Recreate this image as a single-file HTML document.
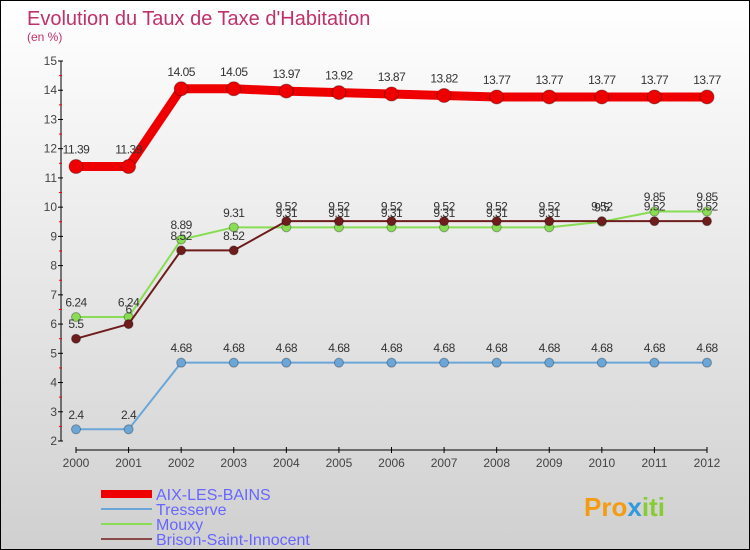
<!DOCTYPE html>
<html><head><meta charset="utf-8"><style>
body{margin:0}
#c{width:748px;height:548px;border:1px solid #000;background:linear-gradient(#fff,#d0d0d0);position:relative;font-family:"Liberation Sans",sans-serif;overflow:hidden}
svg text{font-family:"Liberation Sans",sans-serif}
</style></head><body>
<div id="c">
<svg id="s" width="748" height="548">
<text x="26" y="24" font-size="20" fill="#c0306a">Evolution du Taux de Taxe d'Habitation</text>
<text x="26" y="40" font-size="12" fill="#c0306a">(en %)</text>
<g id="axes"></g><g id="series"></g>
<g>
<rect x="100" y="489" width="51" height="8" fill="#e00"/>
<text x="155" y="499" font-size="16" fill="#6666ff">AIX-LES-BAINS</text>
<rect x="100" y="507" width="51" height="2" fill="#6aa6d8"/>
<text x="155" y="514" font-size="16" fill="#6666ff">Tresserve</text>
<rect x="100" y="522" width="51" height="2" fill="#88dd55"/>
<text x="155" y="529" font-size="16" fill="#6666ff">Mouxy</text>
<rect x="100" y="537" width="51" height="2" fill="#8b4a4a"/>
<text x="155" y="544" font-size="16" fill="#6666ff">Brison-Saint-Innocent</text>
</g>
<text x="583" y="515" font-size="26" font-weight="bold" fill="#f39c12">Pro<tspan fill="#3399dd">x</tspan><tspan fill="#88cc33">iti</tspan></text>
</svg></div>
<script>
const years=[2000,2001,2002,2003,2004,2005,2006,2007,2008,2009,2010,2011,2012];
const yTicks=[2,3,4,5,6,7,8,9,10,11,12,13,14,15];
const aix=[11.39,11.39,14.05,14.05,13.97,13.92,13.87,13.82,13.77,13.77,13.77,13.77,13.77];
const tresserve=[2.4,2.4,4.68,4.68,4.68,4.68,4.68,4.68,4.68,4.68,4.68,4.68,4.68];
const mouxy=[6.24,6.24,8.89,9.31,9.31,9.31,9.31,9.31,9.31,9.31,9.5,9.85,9.85];
const brison=[5.5,6,8.52,8.52,9.52,9.52,9.52,9.52,9.52,9.52,9.52,9.52,9.52];
const NS="http://www.w3.org/2000/svg";
const X=i=>75+i*(706-75)/(years.length-1);
const Y=v=>440-(v-2)*(380/13);
function mk(t,a,p){const e=document.createElementNS(NS,t);for(const k in a)e.setAttribute(k,a[k]);p.appendChild(e);return e;}
const ax=document.getElementById('axes'),sg=document.getElementById('series');
let l=mk('line',{x1:60,y1:60,x2:60,y2:440,stroke:'#000'},ax);


l=mk('line',{x1:75,y1:449,x2:706,y2:449,stroke:'#000'},ax);


yTicks.forEach(v=>{
 mk('line',{x1:57,y1:Y(v),x2:62,y2:Y(v),stroke:'#000'},ax);
 if(v<15)mk('line',{x1:58,y1:Y(v+0.5),x2:61,y2:Y(v+0.5),stroke:'#f00'},ax);
 const t=mk('text',{x:56,y:Y(v)+4,'font-size':12,'text-anchor':'end',fill:'#444'},ax);
 t.textContent=v;
 
 
});
years.forEach((yr,i)=>{
 mk('line',{x1:X(i),y1:446,x2:X(i),y2:452,stroke:'#000'},ax);
 const t=mk('text',{x:X(i),y:466,'font-size':12,'text-anchor':'middle',fill:'#444'},ax);
 t.textContent=yr;
 
 
});
function series(d,color,w,r,name){
 const g=mk('g',{},sg);
 
 
 const p=mk('polyline',{points:d.map((v,i)=>X(i)+','+Y(v)).join(' '),fill:'none',stroke:color,'stroke-width':w,'stroke-linejoin':'round'},g);
 
 
 d.forEach((v,i)=>{
  const c=mk('circle',{cx:X(i),cy:Y(v),r:r,fill:color,stroke:'rgba(0,0,0,0.3)'},g);
  
  
  const t=mk('text',{x:X(i),y:Y(v)-(r+6),'font-size':12,'text-anchor':'middle',fill:'#333','letter-spacing':'-0.5'},g);
  t.textContent=v;
  
  
 });
}
series(tresserve,'#6aa6d8',2,4.5,'tresserve');
series(mouxy,'#88dd55',2,4.5,'mouxy');
series(brison,'#6e1c1c',2,4.5,'brison');
series(aix,'#ee0000',9,7,'aix');
</script>
</body></html>
